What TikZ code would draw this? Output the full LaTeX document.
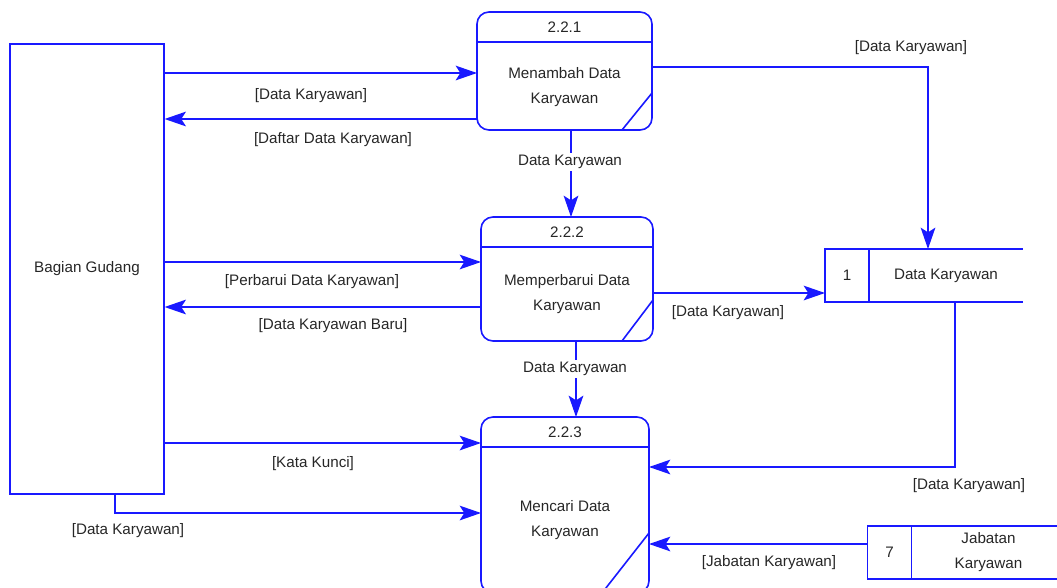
\documentclass[tikz,border=0pt]{standalone}
\usepackage{fontspec}
\setmainfont{Liberation Sans}
\usepackage{xcolor}
\usetikzlibrary{arrows.meta, calc}
\definecolor{dfdblue}{RGB}{25,25,255}
\def\px{0.75pt}
\def\hdr{30}
\newcommand{\procdeco}[3]{%
% #1 = process node, #2 = slash width, #3 = slash height

% header line under the number
\draw[dfdblue, line width=1.2pt]
($(#1.north west)+(0,\hdr)$) -- ($(#1.north east)+(0,\hdr)$);

% slash in the lower right corner
\draw[dfdblue, line width=1.2pt]
($(#1.south east)+(-#2,0)$) -- ($(#1.south east)+(0,-#3)$);
}

\begin{document}
\begin{tikzpicture}[
    x=\px, y=-\px,
    >={Stealth[length=16pt,width=11pt,inset=3.5pt]},
    font=\fontsize{11.4}{18.8}\selectfont,
    every node/.style={text=black!85},
    entity/.style={draw=dfdblue, line width=0.9pt, minimum width=154*\px, minimum height=450*\px},
    process/.style={draw=dfdblue, line width=1.2pt, outer sep=0pt, rounded corners=12*\px},
    storeid/.style={draw=dfdblue, line width=1.2pt, outer sep=0pt, minimum width=44*\px, minimum height=53*\px},
    storename/.style={outer sep=0pt, minimum width=154*\px, minimum height=53*\px, align=center},
    flow/.style={->, draw=dfdblue, line width=1.1pt},
    lbl/.style={inner sep=1pt},
    lblw/.style={inner sep=2pt, fill=white}
]
\useasboundingbox (0,0) rectangle (1057,587);
\clip (0,0) rectangle (1057,587);

% external entity
\node[entity] (gudang) at (87,269) {Bagian Gudang};

% processes
\node[process, minimum width=175*\px, minimum height=118*\px] (p1) at (564.5,71) {};
\node[process, minimum width=172*\px, minimum height=124*\px] (p2) at (567,279) {};
\node[process, minimum width=168*\px, minimum height=176*\px] (p3) at (565,505) {};
\procdeco{p1}{30}{37}
\procdeco{p2}{31}{41}
\procdeco{p3}{47}{60}
\node (p1num) at ($(p1.north)+(0,15)$) {2.2.1};
\node (p2num) at ($(p2.north)+(0,15)$) {2.2.2};
\node (p3num) at ($(p3.north)+(0,15)$) {2.2.3};
\node[align=center] (p1txt) at ($(p1.center)+(0,16)$) {Menambah Data\\Karyawan};
\node[align=center] (p2txt) at ($(p2.center)+(0,15)$) {Memperbarui Data\\Karyawan};
\node[align=center] (p3txt) at ($(p3.center)+(0,15)$) {Mencari Data\\Karyawan};

% data stores
\node[storeid] (ds1) at (847,275.5) {1};
\node[storename, anchor=west] (ds1t) at (ds1.east) {Data Karyawan};
\draw[dfdblue, line width=1.2pt] (ds1.north east) -- (ds1t.north east);
\draw[dfdblue, line width=1.2pt] (ds1.south east) -- (ds1t.south east);
\node[storeid] (ds7) at (889.5,552.5) {7};
\node[storename, anchor=west] (ds7t) at (ds7.east) {Jabatan\\Karyawan};
\draw[dfdblue, line width=1.2pt] (ds7.north east) -- ++(145,0);
\draw[dfdblue, line width=1.2pt] (ds7.south east) -- ++(145,0);

% bend points and levels of the flows
\coordinate (c1) at (0,73);
\coordinate (c2) at (0,119);
\coordinate (c3) at (928,67);
\coordinate (c4) at (571,0);
\coordinate (c5) at (0,262);
\coordinate (c6) at (0,307);
\coordinate (c7) at (0,293);
\coordinate (c8) at (576,0);
\coordinate (c9) at (0,443);
\coordinate (c10) at (115,513);
\coordinate (c11) at (955,467);
\coordinate (c12) at (0,544);

% flows
\draw[flow] (gudang.east |- c1) -- (p1.west |- c1);
\draw[flow] (p1.west |- c2) -- (gudang.east |- c2);
\draw[flow] (p1.east |- c3) -| (c3 |- ds1t.north);
\draw[flow] (p1.south -| c4) -- (p2.north -| c4);
\draw[flow] (gudang.east |- c5) -- (p2.west |- c5);
\draw[flow] (p2.west |- c6) -- (gudang.east |- c6);
\draw[flow] (p2.east |- c7) -- (ds1.west |- c7);
\draw[flow] (p2.south -| c8) -- (p3.north -| c8);
\draw[flow] (gudang.east |- c9) -- (p3.west |- c9);
\draw[flow] (gudang.south -| c10) |- (p3.west |- c10);
\draw[flow] (ds1t.south -| c11) |- (p3.east |- c11);
\draw[flow] (ds7.west |- c12) -- (p3.east |- c12);

% flow labels
\node[lbl] (l1) at (311,96) {[Data Karyawan]};
\node[lbl] (l2) at (333,140) {[Daftar Data Karyawan]};
\node[lbl] (l3) at (911,48) {[Data Karyawan]};
\node[lblw] (l4) at (570,162) {Data Karyawan};
\node[lbl] (l5) at (312,282) {[Perbarui Data Karyawan]};
\node[lbl] (l6) at (333,326) {[Data Karyawan Baru]};
\node[lbl] (l7) at (728,313) {[Data Karyawan]};
\node[lblw] (l8) at (575,369) {Data Karyawan};
\node[lbl] (l9) at (313,464) {[Kata Kunci]};
\node[lbl] (l10) at (128,531) {[Data Karyawan]};
\node[lbl] (l11) at (969,486) {[Data Karyawan]};
\node[lbl] (l12) at (769,563) {[Jabatan Karyawan]};
\end{tikzpicture}
\end{document}
